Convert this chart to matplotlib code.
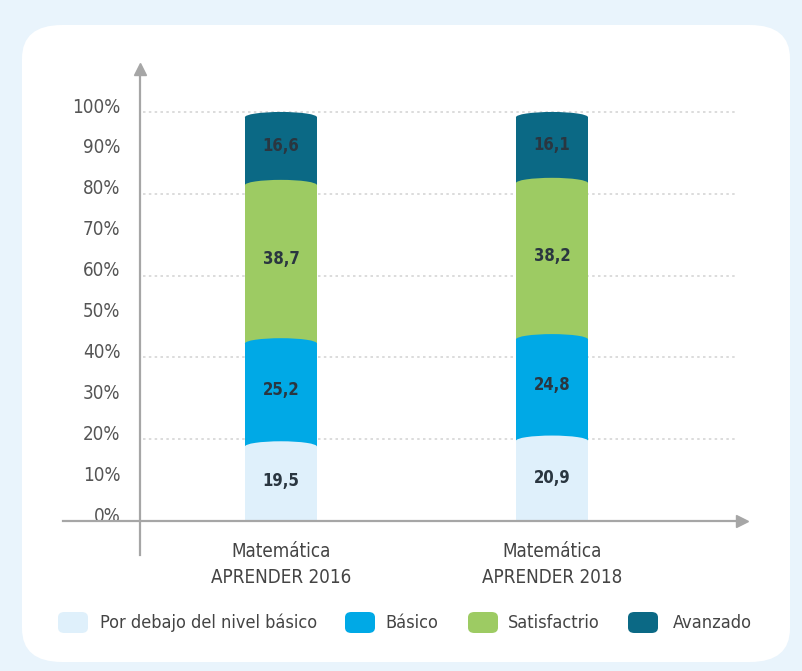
import matplotlib
matplotlib.use("Agg")
import matplotlib.pyplot as plt
from matplotlib.patches import Ellipse, FancyBboxPatch
from matplotlib.transforms import ScaledTranslation

plt.rcParams['font.family'] = ['DejaVu Sans']
plt.rcParams['font.stretch'] = 'condensed'

categories = ["Matemática\nAPRENDER 2016", "Matemática\nAPRENDER 2018"]
levels = ["Por debajo del nivel básico", "Básico", "Satisfactrio", "Avanzado"]
debajo = [19.5, 20.9]
basico = [25.2, 24.8]
satisf = [38.7, 38.2]
avanzado = [16.6, 16.1]
colors = ["#dff0fb", "#00a9e6", "#9dcb63", "#0b6985"]
yticks = list(range(0, 101, 10))

W, H = 802, 671
fig = plt.figure(figsize=(W / 100, H / 100), dpi=100)
fig.patch.set_facecolor("#e9f4fc")

# white rounded panel
panel = FancyBboxPatch((22 / W, (H - 662) / H), (790 - 22) / W, (662 - 25) / H,
                       boxstyle="round,pad=0,rounding_size=0.05",
                       transform=fig.transFigure, facecolor="white",
                       edgecolor="none", zorder=-1)
fig.patches.append(panel)

ax = fig.add_axes([63 / W, (H - 555) / H, 679 / W, 486 / H], zorder=2)
ax.set_facecolor("none")
ax.set_xlim(-0.804, 1.701)
ax.set_ylim(-8.3, 110.5)

yaxis_x = -0.52
axis_col = "#a6a6a6"

for s in ["top", "right"]:
    ax.spines[s].set_visible(False)
ax.spines["left"].set_position(("data", yaxis_x))
ax.spines["bottom"].set_position(("data", 0))
for s in ["left", "bottom"]:
    ax.spines[s].set_color(axis_col)
    ax.spines[s].set_linewidth(1.6)
ax.plot(1, 0, ">", color=axis_col, markersize=8, transform=ax.get_yaxis_transform(), clip_on=False)
ax.plot(yaxis_x, 1, "^", color=axis_col, markersize=8, transform=ax.get_xaxis_transform(), clip_on=False)

# dotted grid
ax.hlines([20, 40, 60, 80, 100], yaxis_x + 0.01, 1.68, colors="#d6d6d6",
          linestyles=(0, (1.5, 2)), linewidth=1.2, zorder=1)

ax.set_yticks(yticks)
ax.set_yticklabels([f"{v}%" for v in yticks], fontsize=13.5, color="#555555")
ax.tick_params(axis="y", length=0, pad=14)
for lab in ax.get_yticklabels():
    lab.set_transform(lab.get_transform() + ScaledTranslation(0, 5 / 72, fig.dpi_scale_trans))

x = [0, 1]
ax.set_xticks(x)
ax.set_xticklabels(categories, fontsize=13.5, color="#444444", linespacing=1.5)
ax.tick_params(axis="x", length=0, pad=15)

# stacked bars with rounded tops, drawn from the top segment down
bw = 0.266
cap = 1.3
series = [debajo, basico, satisf, avanzado]
for i in x:
    tops = []
    acc = 0
    for s in series:
        acc += s[i]
        tops.append(acc)
    for k in range(3, -1, -1):
        t = tops[k]
        ax.bar(i, t - cap, width=bw, color=colors[k], zorder=2 + (3 - k) * 0.1, linewidth=0)
        ax.add_patch(Ellipse((i, t - cap), bw, 2 * cap, facecolor=colors[k],
                             edgecolor="none", zorder=2 + (3 - k) * 0.1))
    bottom = 0
    for k, s in enumerate(series):
        ax.text(i, bottom + s[i] / 2, f"{s[i]:.1f}".replace(".", ","),
                ha="center", va="center", fontsize=12, fontweight="bold",
                color="#2a3640", zorder=5)
        bottom += s[i]

# legend
leg_sq = [58, 345, 468, 628]
leg_tx = [100, 385, 508, 673]
for k in range(4):
    sq = FancyBboxPatch((leg_sq[k] / W, (H - 633) / H), 30 / W, 21 / H,
                        boxstyle="round,pad=0,rounding_size=0.008",
                        transform=fig.transFigure, facecolor=colors[k],
                        edgecolor="none")
    fig.patches.append(sq)
    fig.text(leg_tx[k] / W, (H - 623) / H, levels[k], fontsize=13,
             color="#444444", ha="left", va="center")

fig.savefig("out.png", dpi=100, facecolor=fig.get_facecolor())
